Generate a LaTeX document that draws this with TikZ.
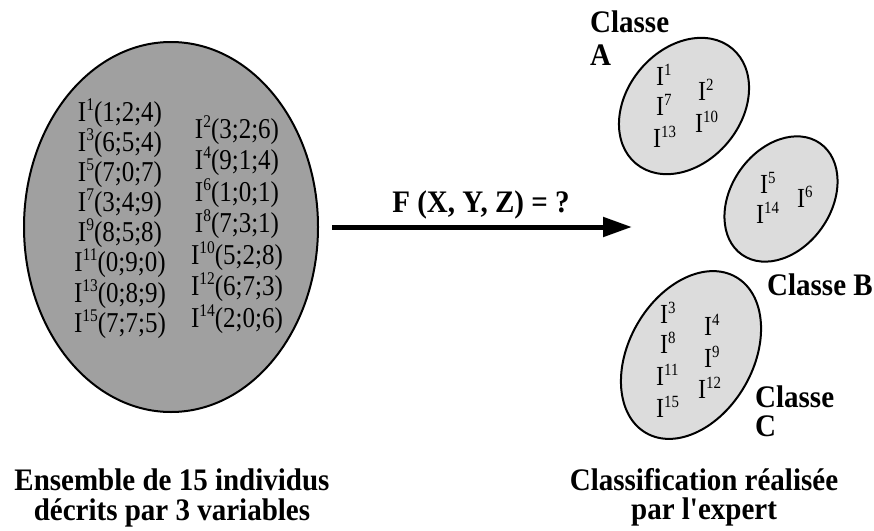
\documentclass[tikz,border=0pt]{standalone}
\usepackage{fontspec}
\setmainfont{Liberation Serif}
\newfontfamily\plainserif{Liberation Serif}
\usetikzlibrary{arrows.meta,shapes.geometric}
\newcommand\tallx[1]{\scalebox{1}[1.15]{#1}}
\newcommand\tallb[1]{\scalebox{1}[1.08]{#1}}
\newcommand\indiv[1]{I\raisebox{0.36em}{\scalebox{0.62}{#1}}}
\tikzset{
  bigset/.style={ellipse, draw=black, line width=2pt, fill=bigfill, inner sep=0pt},
  classset/.style={ellipse, draw=black, line width=2pt, fill=classfill, inner sep=0pt},
  itemtxt/.style={inner sep=0pt, anchor=base, font=\fontsize{25}{30}\selectfont},
  smalltxt/.style={inner sep=0pt, anchor=base west, font=\fontsize{24}{28}\selectfont},
  boldlab/.style={inner sep=0pt, font=\fontsize{29}{30}\selectfont\bfseries},
  mainarrow/.style={line width=5pt, -{Triangle[length=29pt,width=19pt]}}
}
\definecolor{bigfill}{RGB}{160,160,160}
\definecolor{classfill}{RGB}{220,220,220}
\begin{document}
\begin{tikzpicture}[x=1pt,y=-1pt]
\useasboundingbox (0,0) rectangle (874,530);
% big set
\node[bigset, minimum width=294pt, minimum height=370pt] (set) at (171,227) {};
% left column
\node[itemtxt] (l1) at (120,121) {\tallx{\indiv{1}(1;2;4)}};
\node[itemtxt] (l2) at (120,151) {\tallx{\indiv{3}(6;5;4)}};
\node[itemtxt] (l3) at (120,181) {\tallx{\indiv{5}(7;0;7)}};
\node[itemtxt] (l4) at (120,211) {\tallx{\indiv{7}(3;4;9)}};
\node[itemtxt] (l5) at (120,241) {\tallx{\indiv{9}(8;5;8)}};
\node[itemtxt] (l6) at (120,271) {\tallx{\indiv{11}(0;9;0)}};
\node[itemtxt] (l7) at (120,302) {\tallx{\indiv{13}(0;8;9)}};
\node[itemtxt] (l8) at (120,332) {\tallx{\indiv{15}(7;7;5)}};
% right column
\node[itemtxt] (r1) at (237,138) {\tallx{\indiv{2}(3;2;6)}};
\node[itemtxt] (r2) at (237,169) {\tallx{\indiv{4}(9;1;4)}};
\node[itemtxt] (r3) at (237,201) {\tallx{\indiv{6}(1;0;1)}};
\node[itemtxt] (r4) at (237,232) {\tallx{\indiv{8}(7;3;1)}};
\node[itemtxt] (r5) at (237,264) {\tallx{\indiv{10}(5;2;8)}};
\node[itemtxt] (r6) at (237,295) {\tallx{\indiv{12}(6;7;3)}};
\node[itemtxt] (r7) at (237,327) {\tallx{\indiv{14}(2;0;6)}};
% arrow
\coordinate (as) at (332,227);
\coordinate (ae) at (632,227);
\draw[mainarrow] (as) -- (ae);
\node[boldlab, anchor=base] (f) at (481,212) {\tallb{F (X, Y, Z) = ?}};
% class A
\node[classset, minimum width=150pt, minimum height=114pt, rotate=50] (ca) at (684,106) {};
\node[smalltxt] (a1) at (656,85) {\tallx{\indiv{1}}};
\node[smalltxt] (a7) at (656,115) {\tallx{\indiv{7}}};
\node[smalltxt] (a13) at (653,147) {\tallx{\indiv{13}}};
\node[smalltxt] (a2) at (698,100) {\tallx{\indiv{2}}};
\node[smalltxt] (a10) at (695,132) {\tallx{\indiv{10}}};
\node[boldlab, anchor=base west] (la1) at (590,32) {\tallb{Classe}};
\node[boldlab, anchor=base west] (la2) at (590,65) {\tallb{A}};
% class B
\node[classset, minimum width=136pt, minimum height=100pt, rotate=55] (cb) at (781,199) {};
\node[smalltxt] (b5) at (760,193) {\tallx{\indiv{5}}};
\node[smalltxt] (b14) at (756,223) {\tallx{\indiv{14}}};
\node[smalltxt] (b6) at (797,207) {\tallx{\indiv{6}}};
\node[boldlab, anchor=base west] (lb) at (767,295) {\tallb{Classe B}};
% class C
\node[classset, minimum width=180pt, minimum height=124pt, rotate=60] (cc) at (691,355) {};
\node[smalltxt] (c3) at (660,323) {\tallx{\indiv{3}}};
\node[smalltxt] (c8) at (660,353) {\tallx{\indiv{8}}};
\node[smalltxt] (c11) at (656,385) {\tallx{\indiv{11}}};
\node[smalltxt] (c15) at (656,417) {\tallx{\indiv{15}}};
\node[smalltxt] (c4) at (704,335) {\tallx{\indiv{4}}};
\node[smalltxt] (c9) at (704,367) {\tallx{\indiv{9}}};
\node[smalltxt] (c12) at (698,398) {\tallx{\indiv{12}}};
\node[boldlab, anchor=base west] (lc1) at (755,407) {\tallb{Classe}};
\node[boldlab, anchor=base west] (lc2) at (755,436) {\tallb{C}};
% captions
\node[boldlab, anchor=base] (cap1) at (172,490) {\tallb{Ensemble de 15 individus}};
\node[boldlab, anchor=base] (cap2) at (172,520) {\tallb{décrits par 3 variables}};
\node[boldlab, anchor=base] (cap3) at (704,490) {\tallb{Classification réalisée}};
\node[boldlab, anchor=base] (cap4) at (704,519) {\tallb{par l{\plainserif\bfseries '}expert}};
\end{tikzpicture}
\end{document}
